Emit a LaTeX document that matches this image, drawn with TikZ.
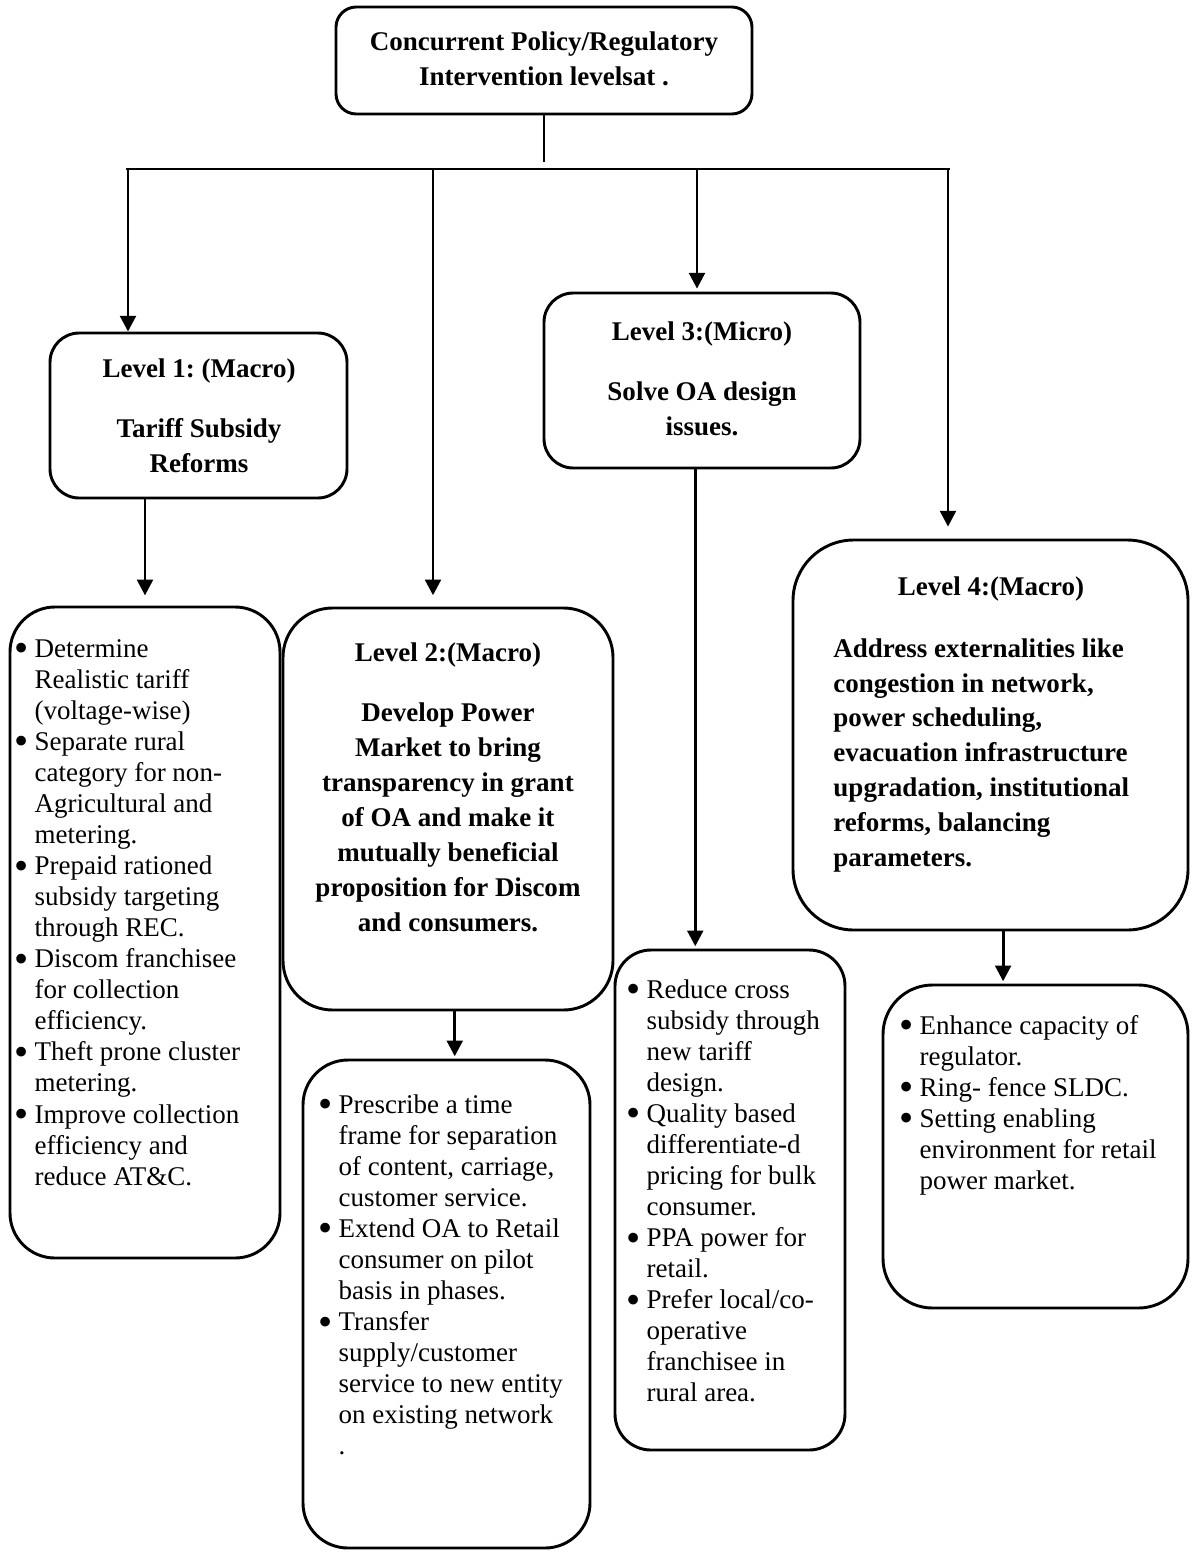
\documentclass[tikz,border=0pt]{standalone}
\usepackage{fontspec}
\setmainfont{Liberation Serif}
\usetikzlibrary{arrows.meta,fit}
\newcommand{\bl}{\makebox[11.6pt][c]{\raisebox{-2pt}{\scalebox{1.5}{\textbullet}}}}
\begin{document}
\frenchspacing
\begin{tikzpicture}[x=0.4444pt,y=-0.4444pt,line width=1.3pt,
  rbox/.style={draw,rounded corners=#1,inner sep=0pt},
  head/.style={font=\bfseries\fontsize{12}{15.5}\selectfont,align=center,inner sep=0pt,anchor=north},
  list/.style={font=\fontsize{12}{13.8}\selectfont,inner sep=0pt,anchor=north west},
  arr/.style={-{Triangle[length=7pt,width=7pt]}}]
\useasboundingbox (0,0) rectangle (1193,1553);

% boxes
\node (top) [rbox=9pt,fit={(336,7) (752,114)}] {};
\node (lv1) [rbox=13pt,fit={(50,333) (347,498)}] {};
\node (lv2) [rbox=22pt,fit={(283,608) (613,1010)}] {};
\node (lv3) [rbox=13pt,fit={(544,293) (860,468)}] {};
\node (lv4) [rbox=27pt,fit={(793,540) (1188,930)}] {};
\node (b1) [rbox=20pt,fit={(10,607) (280,1258)}] {};
\node (b2) [rbox=20pt,fit={(303,1060) (590,1548)}] {};
\node (b3) [rbox=16pt,fit={(615,950) (845,1450)}] {};
\node (b4) [rbox=22pt,fit={(883,985) (1188,1308)}] {};

% headings
\node (toptxt) [head] at (544,30) {Concurrent Policy/Regulatory\\ Intervention levelsat .};
\node (lv1txt) [head] at (199,357) {Level 1: (Macro)\\[11.5pt] Tariff Subsidy\\ Reforms};
\node (lv2txt) [head] at (448,641) {Level 2:(Macro)\\[11.5pt] Develop Power\\ Market to bring\\
  transparency in grant\\ of OA and make it\\ mutually beneficial\\ proposition for Discom\\ and consumers.};
\node (lv3txt) [head] at (702,320) {Level 3:(Micro)\\[11.5pt] Solve OA design\\ issues.};
\node (lv4txt) [head] at (991,575) {Level 4:(Macro)};
\node (lv4body) [head,align=left,anchor=north west] at (832,637) {Address externalities like\\
  congestion in network,\\ power scheduling,\\ evacuation infrastructure\\
  upgradation, institutional\\ reforms, balancing\\ parameters.};

% bullet lists
\node (b1txt) [list] at (7,634) {\begin{tabular}{@{}l@{}l@{}}
  \bl & Determine\\ & Realistic tariff\\ & (voltage-wise)\\
  \bl & Separate rural\\ & category for non-\\ & Agricultural and\\ & metering.\\
  \bl & Prepaid rationed\\ & subsidy targeting\\ & through REC.\\
  \bl & Discom franchisee\\ & for collection\\ & efficiency.\\
  \bl & Theft prone cluster\\ & metering.\\
  \bl & Improve collection\\ & efficiency and\\ & reduce AT\&C.
  \end{tabular}};
\node (b2txt) [list] at (311,1090) {\begin{tabular}{@{}l@{}l@{}}
  \bl & Prescribe a time\\ & frame for separation\\ & of content, carriage,\\ & customer service.\\
  \bl & Extend OA to Retail\\ & consumer on pilot\\ & basis in phases.\\
  \bl & Transfer\\ & supply/customer\\ & service to new entity\\ & on existing network\\ & .
  \end{tabular}};
\node (b3txt) [list] at (619,975) {\begin{tabular}{@{}l@{}l@{}}
  \bl & Reduce cross\\ & subsidy through\\ & new tariff\\ & design.\\
  \bl & Quality based\\ & differentiate-d\\ & pricing for bulk\\ & consumer.\\
  \bl & PPA power for\\ & retail.\\
  \bl & Prefer local/co-\\ & operative\\ & franchisee in\\ & rural area.
  \end{tabular}};
\node (b4txt) [list] at (892,1011) {\begin{tabular}{@{}l@{}l@{}}
  \bl & Enhance capacity of\\ & regulator.\\
  \bl & Ring- fence SLDC.\\
  \bl & Setting enabling\\ & environment for retail\\ & power market.
  \end{tabular}};

% connectors
\coordinate (stem) at (544,162);
\coordinate (busl) at (126,169);
\coordinate (busr) at (950,169);
\coordinate (j1) at (128,169);
\coordinate (j2) at (433,169);
\coordinate (j3) at (697,169);
\coordinate (j4) at (948,169);
\draw (top.south) -- (stem);
\draw (busl) -- (busr);
\draw[arr] (j1) -- (j1 |- lv1.north);
\draw[arr,shorten >=5pt] (j2) -- (j2 |- lv2.north);
\draw[arr,shorten >=1.3pt] (j3) -- (j3 |- lv3.north);
\draw[arr,shorten >=5.3pt] (j4) -- (j4 |- lv4.north);
\draw[arr,shorten >=4.5pt] (lv1.south -| b1.north) -- (b1.north);
\draw[arr,shorten >=1pt] ([xshift=3pt]lv2.south) -- ([xshift=3pt]lv2.south |- b2.north);
\draw[arr,shorten >=1pt] ([xshift=-3pt]lv3.south) -- ([xshift=-3pt]lv3.south |- b3.north);
\draw[arr,shorten >=1pt] ([xshift=5.6pt]lv4.south) -- ([xshift=5.6pt]lv4.south |- b4.north);
\end{tikzpicture}
\end{document}
